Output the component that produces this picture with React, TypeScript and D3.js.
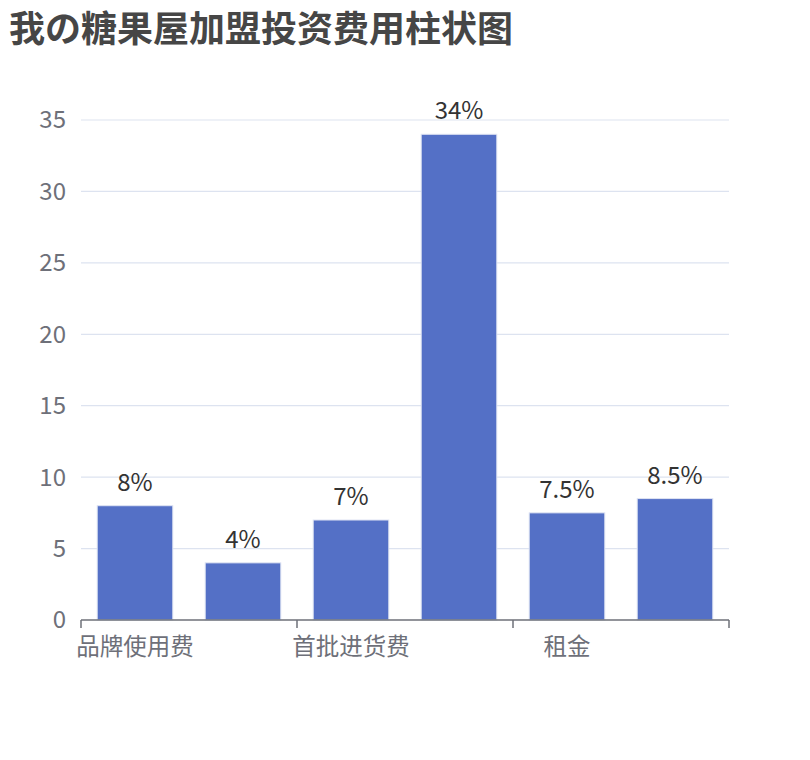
import React from 'react';
import * as d3 from 'd3';

const categories = ['品牌使用费', '装修费', '首批进货费', '设备费', '租金', '其他'];
const values = [8, 4, 7, 34, 7.5, 8.5];
const valueLabels = ['8%', '4%', '7%', '34%', '7.5%', '8.5%'];
const yTicks = [0, 5, 10, 15, 20, 25, 30, 35];
const title = '我の糖果屋加盟投资费用柱状图';

const W = 810;
const H = 760;
const margin = { top: 120, right: 81, bottom: 140, left: 81 };
const font = '"Noto Sans CJK SC", "Noto Sans", sans-serif';

export default function App() {
  const x = d3.scaleBand<string>()
    .domain(categories)
    .range([margin.left, W - margin.right])
    .paddingInner(0.3)
    .paddingOuter(0.15);

  const y = d3.scaleLinear()
    .domain([0, 35])
    .range([H - margin.bottom, margin.top]);

  const step = x.step();
  const x0 = margin.left;
  const bottom = y(0);

  // labels shown every other category, ticks at the boundaries of those pairs
  const tickXs = d3.range(0, categories.length + 1, 2).map(i => x0 + i * step);

  return (
    <svg width={W} height={H} style={{ display: 'block', margin: -8 }}>
      <rect width={W} height={H} fill="#fff" />
      <text x={9} y={42} fontFamily={font} fontSize={36} fontWeight="bold" fill="#464646">
        {title}
      </text>

      {yTicks.map(t => (
        <g key={t}>
          {t > 0 && (
            <line x1={margin.left} x2={W - margin.right} y1={y(t)} y2={y(t)} stroke="#dde3f0" strokeWidth={1.2} />
          )}
          <text x={margin.left - 15} y={y(t)} dy="0.35em" textAnchor="end"
            fontFamily={font} fontSize={24} fill="#6e7079">{t}</text>
        </g>
      ))}

      {categories.map((c, i) => (
        <g key={c}>
          <rect
            x={x(c)!}
            y={y(values[i])}
            width={x.bandwidth()}
            height={bottom - y(values[i])}
            fill="#5470c6"
            stroke="#dfe4f3"
            strokeWidth={1}
          />
          <text x={x(c)! + x.bandwidth() / 2} y={y(values[i]) - 15} textAnchor="middle"
            fontFamily={font} fontSize={24} fill="#333">{valueLabels[i]}</text>
        </g>
      ))}

      <line x1={margin.left} x2={W - margin.right} y1={bottom} y2={bottom} stroke="#6e7079" strokeWidth={1.5} />
      {tickXs.map(tx => (
        <line key={tx} x1={tx} x2={tx} y1={bottom} y2={bottom + 8} stroke="#6e7079" strokeWidth={1.5} />
      ))}
      {categories.map((c, i) => i % 2 === 0 && (
        <text key={c} x={x(c)! + x.bandwidth() / 2} y={bottom + 35} textAnchor="middle"
          fontFamily={font} fontSize={23.5} fill="#6e7079">{c}</text>
      ))}
    </svg>
  );
}
